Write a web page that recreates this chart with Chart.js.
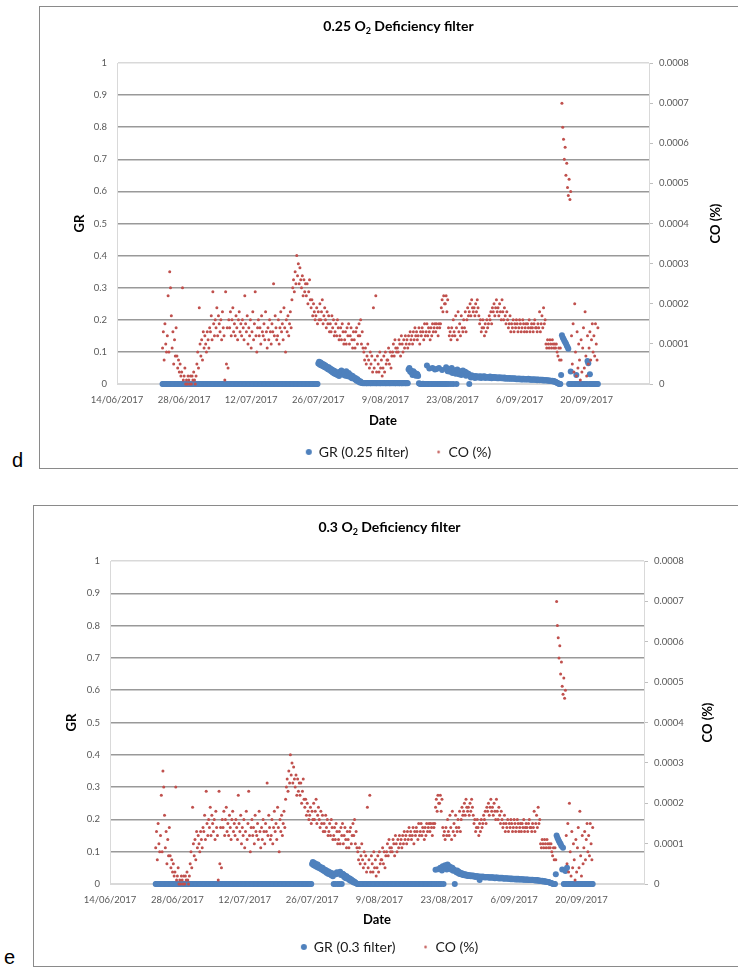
<!DOCTYPE html>
<html>
<head>
<meta charset="utf-8">
<script src="https://cdn.jsdelivr.net/npm/chart.js@4.4.0/dist/chart.umd.min.js"></script>
<style>
  html, body { margin: 0; padding: 0; background: #fff; }
  body { width: 738px; height: 971px; overflow: hidden; position: relative; }
  .frame { position: absolute; border: 1.5px solid #8a8a8a; box-sizing: border-box; }
  canvas { position: absolute; }
  .tag { position: absolute; font-family: "Liberation Sans", Arial, sans-serif; font-size: 20px; line-height: 20px; color: #000; }
</style>
</head>
<body>
<div class="frame" style="left:39px; top:6px; width:760px; height:463px;"></div>
<canvas id="chartD" width="717" height="463" style="left:40px; top:6px;"></canvas>
<div class="tag" style="left:12px; top:450px;">d</div>

<div class="frame" style="left:33px; top:505px; width:760px; height:462px;"></div>
<canvas id="chartE" width="711" height="462" style="left:34px; top:505px;"></canvas>
<div class="tag" style="left:4px; top:947px;">e</div>

<script>
// time base: one reading every 4 hours, first one 9.5 days after 14/06/2017
const startDay = 9.5;
const stepDay = 1 / 6;

// x axis: days since 14/06/2017, a label every 14 days
const dateLabels = ['14/06/2017', '28/06/2017', '12/07/2017', '26/07/2017', '9/08/2017', '23/08/2017', '6/09/2017', '20/09/2017'];
const dayMax = 111;

// CO (%) in units of 0.00001 %
const coUnit = 0.00001;
const coValues = [
    9, 13, 6, 15, 10, 8, 12, 22, 8, 28, 24, 17,
    9, 13, 5, 11, 7, 14, 7, 4, 6, 3, 5, 2,
    3, 24, 1, 2, 4, 0, 1, 0, 2, 1, 0, 2,
    0, 2, 1, 3, 1, 0, 2, 5, 8, 4, 19, 10,
    7, 11, 6, 13, 9, 12, 10, 8, 13, 11, 9, 14,
    13, 17, 11, 23, 15, 12, 16, 14, 19, 12, 17, 15,
    13, 16, 11, 18, 14, 12, 1, 23, 5, 14, 4, 16,
    14, 18, 12, 16, 19, 13, 15, 12, 17, 14, 11, 16,
    18, 13, 15, 12, 16, 14, 11, 22, 15, 13, 17, 10,
    14, 12, 16, 9, 13, 18, 11, 15, 23, 12, 8, 14,
    16, 12, 14, 10, 17, 13, 12, 15, 11, 18, 13, 9,
    14, 11, 16, 13, 10, 15, 13, 25, 12, 17, 14, 11,
    12, 16, 10, 14, 18, 13, 15, 11, 19, 14, 8, 16,
    13, 17, 12, 15, 18, 14, 21, 24, 26, 23, 28, 25,
    32, 27, 30, 25, 29, 26, 24, 27, 22, 26, 23, 25,
    22, 25, 20, 23, 26, 21, 19, 21, 17, 20, 18, 16,
    17, 19, 15, 18, 16, 20, 16, 18, 21, 15, 17, 19,
    16, 14, 18, 15, 17, 13, 15, 13, 17, 14, 16, 12,
    13, 15, 12, 16, 14, 11, 12, 14, 11, 15, 13, 10,
    11, 13, 10, 14, 12, 15, 10, 12, 14, 11, 9, 13,
    11, 9, 13, 14, 10, 12, 15, 12, 16, 10, 13, 9,
    8, 6, 9, 5, 7, 10, 6, 4, 8, 5, 7, 3,
    19, 4, 6, 22, 3, 7, 5, 3, 8, 4, 6, 2,
    4, 7, 3, 8, 5, 6, 6, 9, 5, 8, 4, 7,
    8, 10, 7, 11, 9, 8, 9, 8, 11, 10, 7, 12,
    10, 8, 11, 9, 12, 10, 11, 9, 12, 10, 13, 11,
    12, 10, 13, 11, 14, 12, 13, 11, 12, 14, 10, 13,
    12, 14, 13, 11, 15, 12, 13, 15, 12, 14, 13, 11,
    14, 12, 15, 13, 14, 15, 13, 15, 14, 12, 15, 14,
    15, 19, 21, 18, 22, 20, 20, 22, 18, 21, 14, 12,
    13, 11, 14, 12, 16, 13, 12, 17, 14, 11, 18, 13,
    15, 12, 17, 14, 13, 16, 14, 18, 13, 16, 19, 17,
    18, 20, 17, 21, 19, 18, 19, 17, 20, 18, 21, 19,
    17, 15, 16, 13, 14, 16, 14, 12, 15, 13, 16, 14,
    15, 17, 16, 18, 15, 19, 18, 20, 17, 19, 21, 18,
    19, 17, 20, 18, 16, 21, 18, 16, 19, 17, 15, 18,
    16, 14, 15, 17, 13, 15, 14, 16, 13, 15, 14, 16,
    15, 13, 14, 16, 15, 13, 14, 16, 15, 13, 14, 15,
    13, 15, 14, 16, 13, 14, 15, 14, 13, 15, 16, 14,
    14, 13, 15, 14, 18, 13, 15, 17, 14, 19, 15, 16,
    10, 9, 11, 10, 9, 11, 10, 9, 11, 10, 9, 10,
    9, 10, 8, 7, 9, 6, 9, 6, 70, 64, 61, 56,
    59, 52, 55, 49, 47, 51, 46, 48, 12, 5, 15, 3,
    20, 8, 2, 13, 4, 10, 6, 1, 11, 3, 9, 14,
    4, 18, 7, 2, 12, 5, 9, 13, 6, 11, 15, 8,
    12, 7, 15, 10, 6, 14
];

// GR, 0.25 O2 deficiency filter
const gr25Values = [
    0, 0, 0, 0, 0, 0, 0, 0, 0, 0, 0, 0,
    0, 0, 0, 0, 0, 0, 0, 0, 0, 0, 0, 0,
    0, 0, 0, 0, 0, 0, 0, 0, 0, 0, 0, 0,
    0, 0, 0, 0, 0, 0, 0, 0, 0, 0, 0, 0,
    0, 0, 0, 0, 0, 0, 0, 0, 0, 0, 0, 0,
    0, 0, 0, 0, 0, 0, 0, 0, 0, 0, 0, 0,
    0, 0, 0, 0, 0, 0, 0, 0, 0, 0, 0, 0,
    0, 0, 0, 0, 0, 0, 0, 0, 0, 0, 0, 0,
    0, 0, 0, 0, 0, 0, 0, 0, 0, 0, 0, 0,
    0, 0, 0, 0, 0, 0, 0, 0, 0, 0, 0, 0,
    0, 0, 0, 0, 0, 0, 0, 0, 0, 0, 0, 0,
    0, 0, 0, 0, 0, 0, 0, 0, 0, 0, 0, 0,
    0, 0, 0, 0, 0, 0, 0, 0, 0, 0, 0, 0,
    0, 0, 0, 0, 0, 0, 0, 0, 0, 0, 0, 0,
    0, 0, 0, 0, 0, 0, 0, 0, 0, 0, 0, 0,
    0, 0, 0, 0, 0, 0, 0, 0, 0, 0, 0, 0,
    0, 0, 0, 0.064, 0.069, 0.06, 0.067, 0.058, 0.063, 0.055, 0.061, 0.052,
    0.058, 0.05, 0.054, 0.046, 0.052, 0.044, 0.048, 0.04, 0.045, 0.036, 0.042, 0.033,
    0.04, 0.03, 0.036, 0.028, 0.034, 0.025, 0.038, 0.03, 0.042, 0.032, 0.036, 0.028,
    0.035, 0.026, 0.04, 0.03, 0.024, 0.034, 0.03, 0.022, 0.027, 0.018, 0.025, 0.02,
    0.02, 0.014, 0.018, 0.01, 0.015, 0.008, 0.01, 0.005, 0.008, 0.004, 0.003, 0.002,
    0.003, 0.002, 0.003, 0.002, 0.002, 0.003, 0.002, 0.003, 0.002, 0.002, 0.003, 0.002,
    0.003, 0.002, 0.003, 0.002, 0.002, 0.003, 0.002, 0.003, 0.002, 0.002, 0.003, 0.002,
    0.003, 0.002, 0.003, 0.002, 0.002, 0.003, 0.002, 0.003, 0.002, 0.002, 0.003, 0.002,
    0.003, 0.002, 0.003, 0.002, 0.002, 0.003, 0.002, 0.003, 0.002, 0.002, 0.003, 0.002,
    0.002, 0.003, 0.002, 0.003, 0.002, 0.002, 0.003, 0.002, 0.045, 0.05, 0.038, 0.042,
    0.035, 0.028, 0.04, 0.03, 0.034, 0.026, 0.032, 0.03, 0.025, 0.002, 0.001, 0,
    0, 0, 0.001, 0, 0, 0, 0, 0.058, 0, 0, 0.048, 0,
    0, 0, 0.05, 0, 0, 0.045, 0, 0.047, 0, 0, 0.05, 0,
    0, 0, 0.044, 0, 0, 0, 0, 0.052, 0, 0.04, 0, 0.046,
    0.038, 0, 0.05, 0.034, 0, 0.043, 0.04, 0.032, 0, 0.045, 0.036, 0.03,
    0.035, 0.04, 0.028, 0.033, 0.042, 0.03, 0.03, 0.038, 0.026, 0.034, 0.028, 0.032,
    0, 0.024, 0.02, 0.027, 0.022, 0.025, 0.022, 0.019, 0.025, 0.021, 0.023, 0.02,
    0.023, 0.02, 0.024, 0.019, 0.022, 0.023, 0.021, 0.024, 0.019, 0.022, 0.02, 0.021,
    0.022, 0.019, 0.023, 0.02, 0.018, 0.022, 0.02, 0.022, 0.019, 0.021, 0.02, 0.018,
    0.02, 0.018, 0.021, 0.019, 0.018, 0.02, 0.019, 0.017, 0.02, 0.018, 0.016, 0.019,
    0.018, 0.016, 0.019, 0.017, 0.016, 0.018, 0.017, 0.016, 0.018, 0.016, 0.017, 0.015,
    0.016, 0.015, 0.017, 0.015, 0.016, 0.014, 0.016, 0.014, 0.016, 0.015, 0.014, 0.015,
    0.015, 0.014, 0.016, 0.014, 0.015, 0.013, 0.014, 0.013, 0.015, 0.013, 0.014, 0.013,
    0.014, 0.012, 0.014, 0.013, 0.012, 0.013, 0.013, 0.012, 0.013, 0.011, 0.012, 0.012,
    0.012, 0.011, 0.012, 0.01, 0.011, 0.01, 0.01, 0.009, 0.01, 0.008, 0.009, 0.007,
    0.007, 0.005, 0.004, 0.002, 0.001, 0, 0, 0.028, 0.152, 0.145, 0.14, 0.135,
    0.13, 0.126, 0.12, 0.115, 0.11, 0, 0, 0.039, 0, 0, 0, 0,
    0, 0, 0.028, 0, 0, 0, 0, 0, 0, 0, 0, 0,
    0, 0, 0, 0, 0.072, 0.065, 0, 0.03, 0, 0, 0, 0,
    0, 0, 0, 0, 0, 0
];

// GR, 0.3 O2 deficiency filter
const gr30Values = [
    0, 0, 0, 0, 0, 0, 0, 0, 0, 0, 0, 0,
    0, 0, 0, 0, 0, 0, 0, 0, 0, 0, 0, 0,
    0, 0, 0, 0, 0, 0, 0, 0, 0, 0, 0, 0,
    0, 0, 0, 0, 0, 0, 0, 0, 0, 0, 0, 0,
    0, 0, 0, 0, 0, 0, 0, 0, 0, 0, 0, 0,
    0, 0, 0, 0, 0, 0, 0, 0, 0, 0, 0, 0,
    0, 0, 0, 0, 0, 0, 0, 0, 0, 0, 0, 0,
    0, 0, 0, 0, 0, 0, 0, 0, 0, 0, 0, 0,
    0, 0, 0, 0, 0, 0, 0, 0, 0, 0, 0, 0,
    0, 0, 0, 0, 0, 0, 0, 0, 0, 0, 0, 0,
    0, 0, 0, 0, 0, 0, 0, 0, 0, 0, 0, 0,
    0, 0, 0, 0, 0, 0, 0, 0, 0, 0, 0, 0,
    0, 0, 0, 0, 0, 0, 0, 0, 0, 0, 0, 0,
    0, 0, 0, 0, 0, 0, 0, 0, 0, 0, 0, 0,
    0, 0, 0, 0, 0, 0, 0, 0, 0, 0, 0, 0,
    0, 0, 0, 0, 0, 0, 0, 0, 0, 0, 0, 0,
    0, 0, 0, 0.062, 0.068, 0.058, 0.065, 0.056, 0.062, 0.053, 0.06, 0.05,
    0.055, 0.048, 0.052, 0.045, 0.05, 0.042, 0.046, 0.039, 0.043, 0.035, 0.04, 0.032,
    0.038, 0.03, 0.035, 0.027, 0.033, 0.024, 0, 0.032, 0, 0.03, 0.036, 0,
    0.034, 0, 0.038, 0.028, 0, 0.032, 0.03, 0.022, 0.026, 0.018, 0.024, 0.019,
    0.019, 0.013, 0.017, 0.01, 0.014, 0.008, 0.01, 0.005, 0.007, 0.004, 0.002, 0.001,
    0, 0, 0, 0, 0, 0, 0, 0, 0, 0, 0, 0,
    0, 0, 0, 0, 0, 0, 0, 0, 0, 0, 0, 0,
    0, 0, 0, 0, 0, 0, 0, 0, 0, 0, 0, 0,
    0, 0, 0, 0, 0, 0, 0, 0, 0, 0, 0, 0,
    0, 0, 0, 0, 0, 0, 0, 0, 0, 0, 0, 0,
    0, 0, 0, 0, 0, 0, 0, 0, 0, 0, 0, 0,
    0, 0, 0, 0, 0, 0, 0, 0, 0, 0, 0, 0,
    0, 0, 0, 0, 0, 0, 0, 0, 0, 0, 0, 0,
    0, 0.044, 0, 0, 0.046, 0, 0, 0.05, 0, 0.042, 0.055, 0,
    0.048, 0.058, 0.052, 0.045, 0.06, 0.05, 0.055, 0.047, 0.052, 0.044, 0.05, 0.041,
    0.045, 0, 0.04, 0.036, 0.042, 0.034, 0.038, 0.031, 0.035, 0.03, 0.033, 0.028,
    0.031, 0.027, 0.03, 0.026, 0.029, 0.025, 0.028, 0.025, 0.027, 0.024, 0.026, 0.024,
    0.026, 0.023, 0.025, 0.022, 0.024, 0.023, 0.024, 0.022, 0.012, 0.023, 0.021, 0.022,
    0.023, 0.021, 0.022, 0.02, 0.022, 0.021, 0.022, 0.02, 0.021, 0.019, 0.021, 0.02,
    0.021, 0.019, 0.02, 0.018, 0.02, 0.019, 0.02, 0.018, 0.019, 0.017, 0.019, 0.018,
    0.019, 0.017, 0.018, 0.016, 0.018, 0.017, 0.018, 0.016, 0.017, 0.016, 0.017, 0.015,
    0.017, 0.015, 0.016, 0.015, 0.016, 0.014, 0.016, 0.014, 0.016, 0.014, 0.015, 0.014,
    0.015, 0.014, 0.015, 0.013, 0.014, 0.013, 0.014, 0.013, 0.014, 0.012, 0.013, 0.012,
    0.013, 0.012, 0.013, 0.012, 0.012, 0.011, 0.012, 0.011, 0.012, 0.01, 0.011, 0.01,
    0.01, 0.009, 0.01, 0.008, 0.009, 0.008, 0.008, 0.007, 0.007, 0.006, 0.006, 0.005,
    0.004, 0.003, 0.002, 0.001, 0, 0, 0, 0.03, 0.15, 0.143, 0.138, 0.132,
    0.128, 0.124, 0.118, 0.045, 0.112, 0, 0, 0.04, 0, 0.05, 0, 0,
    0, 0, 0, 0, 0, 0, 0, 0, 0, 0, 0, 0,
    0, 0, 0, 0, 0, 0, 0, 0, 0, 0, 0, 0,
    0, 0, 0, 0, 0, 0
];

const grColor = '#4f81bd';
const coColor = '#c0504d';
Chart.defaults.font.family = 'Lato, "DejaVu Sans", sans-serif';

// small legend markers: a big blue dot and a tiny red one
function makeMarker(radius, color) {
    const c = document.createElement('canvas');
    const s = Math.ceil(radius * 2) + 2;
    c.width = s;
    c.height = s;
    const g = c.getContext('2d');
    g.fillStyle = color;
    g.beginPath();
    g.arc(s / 2, s / 2, radius, 0, Math.PI * 2);
    g.fill();
    return c;
}
const grMarker = makeMarker(3, grColor);
const coMarker = makeMarker(1.3, coColor);

// chart title with subscript and the right axis title (reads bottom to top)
const panelText = {
    id: 'panelText',
    afterDraw(chart, args, opts) {
        const ctx = chart.ctx;
        const area = chart.chartArea;
        const big = 'bold 14px Lato';
        const small = 'bold 9px Lato';
        ctx.save();
        ctx.fillStyle = '#000';
        ctx.textAlign = 'left';
        ctx.textBaseline = 'alphabetic';
        ctx.font = big;
        const wa = ctx.measureText(opts.title[0]).width;
        const wc = ctx.measureText(opts.title[2]).width;
        ctx.font = small;
        const wb = ctx.measureText(opts.title[1]).width;
        let x = chart.width / 2 - (wa + wb + wc) / 2;
        ctx.font = big;
        ctx.fillText(opts.title[0], x, opts.titleY);
        x += wa;
        ctx.font = small;
        ctx.fillText(opts.title[1], x, opts.titleY + 3);
        x += wb;
        ctx.font = big;
        ctx.fillText(opts.title[2], x, opts.titleY);

        ctx.translate(opts.coTitleX, (area.top + area.bottom) / 2);
        ctx.rotate(-Math.PI / 2);
        ctx.textAlign = 'center';
        ctx.textBaseline = 'middle';
        ctx.font = 'bold 13px Lato';
        ctx.fillText('CO (%)', 0, 0);
        ctx.restore();
    }
};

function buildChart(id, grValues, grLabel, title, box) {
    const grPoints = grValues.map((v, i) => ({ x: startDay + i * stepDay, y: v }));
    const coPoints = coValues.map((v, i) => ({ x: startDay + i * stepDay, y: v * coUnit }));
    const xBottom = box.height - box.padBottom - 51;

    return new Chart(document.getElementById(id), {
        type: 'scatter',
        data: {
            datasets: [
                { label: grLabel, data: grPoints, yAxisID: 'y', order: 2, pointRadius: 3, pointHoverRadius: 3,
                  pointBackgroundColor: grColor, pointBorderWidth: 0, clip: false },
                { label: 'CO (%)', data: coPoints, yAxisID: 'y2', order: 1, pointRadius: 1.5, pointHoverRadius: 1.5,
                  pointBackgroundColor: coColor, pointBorderWidth: 0, clip: false }
            ]
        },
        options: {
            responsive: false,
            animation: false,
            events: [],
            layout: { padding: { top: box.top, bottom: box.padBottom, left: 0, right: 0 } },
            plugins: {
                tooltip: { enabled: false },
                legend: {
                    position: 'bottom',
                    labels: {
                        usePointStyle: true,
                        boxWidth: 6,
                        padding: 27,
                        color: '#1a1a1a',
                        font: { size: 14 },
                        generateLabels(chart) {
                            const items = Chart.defaults.plugins.legend.labels.generateLabels(chart);
                            items.sort((a, b) => a.datasetIndex - b.datasetIndex);
                            items.forEach(it => { it.pointStyle = it.datasetIndex === 0 ? grMarker : coMarker; });
                            return items;
                        }
                    }
                },
                panelText: { title: title, titleY: box.titleY, coTitleX: box.coTitleX }
            },
            scales: {
                x: {
                    type: 'linear',
                    min: 0,
                    max: dayMax,
                    afterBuildTicks: s => { s.ticks = s.ticks.filter(t => t.value % 14 === 0); },
                    afterFit: s => { s.height = xBottom - box.bottom; },
                    grid: { display: false, drawTicks: false },
                    border: { color: '#d9d9d9' },
                    ticks: {
                        stepSize: 14, padding: box.tickPad, autoSkip: false, maxRotation: 0,
                        color: '#595959', font: { size: 9.5 },
                        callback: v => dateLabels[v / 14]
                    },
                    title: {
                        display: true, text: 'Date', color: '#000',
                        font: { size: 13, weight: 'bold' },
                        padding: { top: 0, bottom: xBottom - 7.8 - box.dateY }
                    }
                },
                y: {
                    position: 'left',
                    min: 0,
                    max: 1,
                    afterFit: s => { s.width = box.left; },
                    grid: {
                        drawTicks: false,
                        lineWidth: 1.5,
                        color: c => (c.tick && (c.tick.value < 0.001 || c.tick.value > 0.999)) ? '#d9d9d9' : '#999999'
                    },
                    border: { color: '#d9d9d9' },
                    ticks: {
                        stepSize: 0.1, padding: 10, color: '#595959', font: { size: 9.5 },
                        callback: v => String(Math.round(v * 10) / 10)
                    },
                    title: {
                        display: true, text: 'GR', color: '#000',
                        font: { size: 13, weight: 'bold' },
                        padding: { top: box.grTitleX - 7.8 }
                    }
                },
                y2: {
                    position: 'right',
                    min: 0,
                    max: 0.0008,
                    afterFit: s => { s.width = box.width - box.right; },
                    grid: { drawOnChartArea: false, tickLength: 4, color: '#bfbfbf' },
                    border: { color: '#d9d9d9' },
                    ticks: {
                        stepSize: 0.0001, padding: 6, color: '#595959', font: { size: 9.5 },
                        callback: v => v < 0.00001 ? '0' : v.toFixed(4)
                    }
                }
            }
        },
        plugins: [panelText]
    });
}

buildChart('chartD', gr25Values, 'GR (0.25 filter)', ['0.25 O', '2', ' Deficiency filter'],
    { width: 717, height: 463, top: 57, left: 77, right: 609, bottom: 378, padBottom: 0,
      tickPad: 10, dateY: 415, titleY: 25, coTitleX: 676, grTitleX: 40 });
buildChart('chartE', gr30Values, 'GR (0.3 filter)', ['0.3 O', '2', ' Deficiency filter'],
    { width: 711, height: 462, top: 56, left: 76, right: 610, bottom: 379, padBottom: 3,
      tickPad: 10, dateY: 415, titleY: 27, coTitleX: 674, grTitleX: 38 });
</script>
</body>
</html>
